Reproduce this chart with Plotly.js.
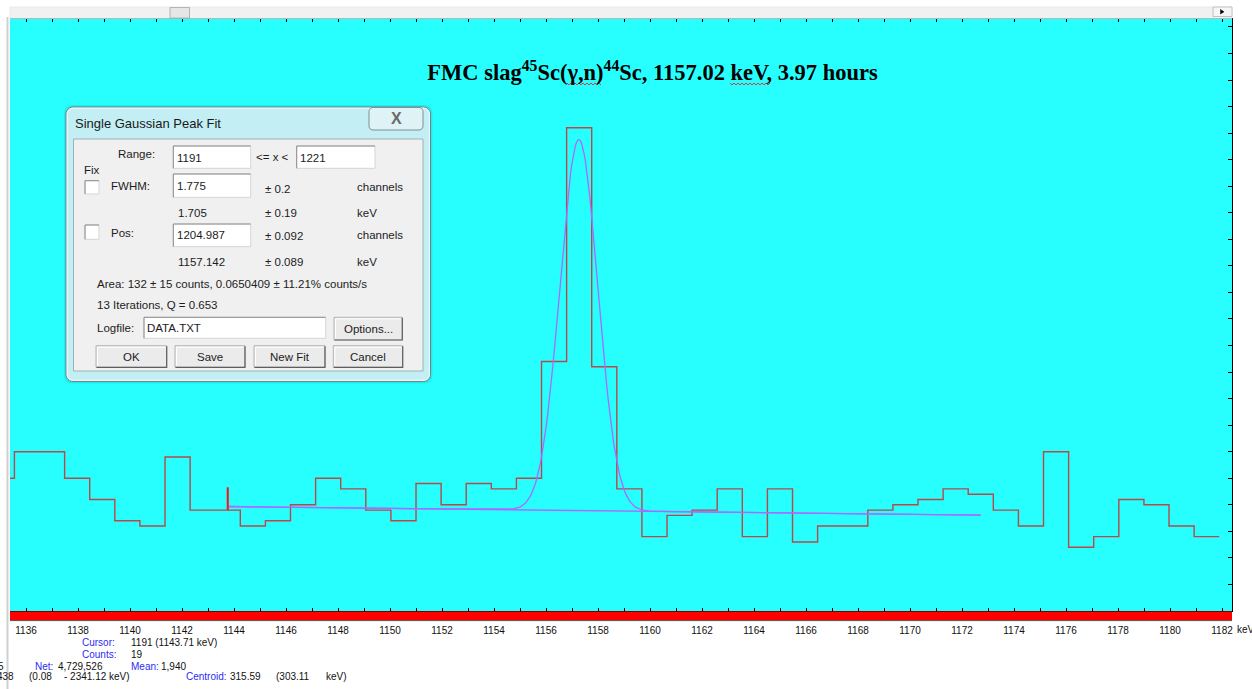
<!DOCTYPE html>
<html>
<head>
<meta charset="utf-8">
<script src="https://cdn.plot.ly/plotly-3.0.1.min.js"></script>
<style>
  html, body { margin: 0; padding: 0; background: #ffffff; }
  #chart { width: 1252px; height: 689px; }
</style>
</head>
<body>
<div id="chart"></div>
<script>
// ---------------- data ----------------
const channels = [1182, 1183, 1184, 1185, 1186, 1187, 1188, 1189, 1190, 1191,
                  1192, 1193, 1194, 1195, 1196, 1197, 1198, 1199, 1200, 1201,
                  1202, 1203, 1204, 1205, 1206, 1207, 1208, 1209, 1210, 1211,
                  1212, 1213, 1214, 1215, 1216, 1217, 1218, 1219, 1220, 1221,
                  1222, 1223, 1224, 1225, 1226, 1227, 1228, 1229, 1230];
const counts = [25, 30, 30, 25, 21, 17, 16, 29, 19, 19,
                16, 17, 20, 25, 23, 19, 17, 24, 20, 24,
                23, 25, 47, 91, 46, 23, 14, 18, 19, 23,
                14, 23, 13, 16, 16, 19, 20, 21, 23, 22,
                19, 16, 30, 12, 14, 21, 20, 16, 14];

// display energy calibration (keV at reference channel, keV per channel)
const calRefChannel = 1191;
const calRefKeV = 1143.76;
const calSlopeKeV = 0.9654;

// single gaussian fit (from the dialog) and background
const fitRange = [1191, 1221];
const fitPos = 1204.987;
const fitFWHM = 1.775;
const fitArea = 132;
const bkgAtRange = [19.68, 18.04];

// cursor marker
const cursorChannel = 1191;
const cursorCounts = [19, 23.3];

// axis ticks
const xTickKeV = [1136, 1137, 1138, 1139, 1140, 1141, 1142, 1143, 1144, 1145, 1146, 1147,
                  1148, 1149, 1150, 1151, 1152, 1153, 1154, 1155, 1156, 1157, 1158, 1159,
                  1160, 1161, 1162, 1163, 1164, 1165, 1166, 1167, 1168, 1169, 1170, 1171,
                  1172, 1173, 1174, 1175, 1176, 1177, 1178, 1179, 1180, 1181, 1182];
const xTickLabels = ['1136', '', '1138', '', '1140', '', '1142', '', '1144', '', '1146', '',
                     '1148', '', '1150', '', '1152', '', '1154', '', '1156', '', '1158', '',
                     '1160', '', '1162', '', '1164', '', '1166', '', '1168', '', '1170', '',
                     '1172', '', '1174', '', '1176', '', '1178', '', '1180', '', '1182'];

const titleText = '<b>FMC slag<sup>45</sup>Sc(γ,n)<sup>44</sup>Sc, 1157.02 keV, 3.97 hours</b>';

// ---------------- helpers ----------------
const keV = ch => calRefKeV + (ch - calRefChannel) * calSlopeKeV;

// plot area in page pixels
const PL = 10, PR = 1232, PT = 19, PB = 611;
const px = x => (x - PL) / (PR - PL);
const py = y => (PB - y) / (PB - PT);

// histogram as steps
const hx = channels.map(c => keV(c) - calSlopeKeV / 2);
hx.push(keV(channels[channels.length - 1]) + calSlopeKeV / 2);
const hy = counts.slice();
hy.push(counts[counts.length - 1]);

// fit model curve
const sigma = fitFWHM / (2 * Math.sqrt(2 * Math.log(2)));
const amp = fitArea / (sigma * Math.sqrt(2 * Math.PI));
const bkg = ch => bkgAtRange[0] + (bkgAtRange[1] - bkgAtRange[0]) * (ch - fitRange[0]) / (fitRange[1] - fitRange[0]);
const fx = [], fy = [];
for (let ch = fitRange[0]; ch <= fitRange[1] + 1e-9; ch += 0.05) {
  fx.push(keV(ch));
  fy.push(bkg(ch) + amp * Math.exp(-0.5 * Math.pow((ch - fitPos) / sigma, 2)));
}

const histColor = 'rgb(185,72,72)';
const fitColor = 'rgb(172,105,255)';

const traces = [
  { x: hx, y: hy, mode: 'lines', line: { shape: 'hv', color: histColor, width: 1.4 }, hoverinfo: 'skip' },
  { x: [keV(fitRange[0]), keV(fitRange[1])], y: bkgAtRange, mode: 'lines',
    line: { color: fitColor, width: 1.3 }, hoverinfo: 'skip' },
  { x: fx, y: fy, mode: 'lines', line: { color: fitColor, width: 1.3 }, hoverinfo: 'skip' },
  { x: [keV(cursorChannel), keV(cursorChannel)], y: cursorCounts, mode: 'lines',
    line: { color: '#ff1010', width: 2 }, hoverinfo: 'skip' }
];

// ---------------- decoration shapes (page pixels -> paper) ----------------
const shapes = [];
function rect(x0, y0, x1, y1, fill, line, lw) {
  shapes.push({ type: 'rect', xref: 'paper', yref: 'paper', layer: 'above',
    x0: px(x0), x1: px(x1), y0: py(y0), y1: py(y1),
    fillcolor: fill, line: { color: line || 'rgba(0,0,0,0)', width: lw === undefined ? 1 : lw } });
}
function pathPx(points, closed, fill, line, lw) {
  let d = points.map((p, i) => (i ? 'L' : 'M') + px(p[0]).toFixed(6) + ',' + py(p[1]).toFixed(6)).join(' ');
  if (closed) d += ' Z';
  shapes.push({ type: 'path', xref: 'paper', yref: 'paper', layer: 'above', path: d,
    fillcolor: fill || 'rgba(0,0,0,0)', line: { color: line || 'rgba(0,0,0,0)', width: lw === undefined ? 1 : lw } });
}
function roundRect(x0, y0, x1, y1, r, fill, line, lw) {
  const pts = [];
  const arc = (cx, cy, a0, a1) => { for (let k = 0; k <= 6; k++) { const a = a0 + (a1 - a0) * k / 6; pts.push([cx + r * Math.cos(a), cy + r * Math.sin(a)]); } };
  arc(x0 + r, y0 + r, Math.PI, 1.5 * Math.PI);
  arc(x1 - r, y0 + r, 1.5 * Math.PI, 2 * Math.PI);
  arc(x1 - r, y1 - r, 0, 0.5 * Math.PI);
  arc(x0 + r, y1 - r, 0.5 * Math.PI, Math.PI);
  pathPx(pts, true, fill, line, lw);
}
function sunkenBox(x0, y0, x1, y1) {
  rect(x0, y0, x1, y1, '#ffffff', '#d5d5d5', 1);
  pathPx([[x0, y1], [x0, y0], [x1, y0]], false, null, '#8e8e8e', 1);
}
function button(x0, y0, x1, y1) {
  rect(x0, y0, x1, y1, '#ebebeb', '#b4b4b4', 1);
  pathPx([[x0 + 0.5, y1], [x1, y1], [x1, y0 + 0.5]], false, null, '#5e5e5e', 1.2);
  pathPx([[x0 + 1.5, y1 - 1.5], [x0 + 1.5, y0 + 1.5], [x1 - 1.5, y0 + 1.5]], false, null, '#ffffff', 1);
}
function wave(x0, x1, y) {
  const pts = [];
  let up = true;
  for (let x = x0; x <= x1; x += 2) { pts.push([x, y + (up ? -1 : 1)]); up = !up; }
  pathPx(pts, false, null, '#e03a3a', 1);
}

// window chrome around the plot
rect(10, 7, 1232, 18.5, '#f1f1f1', '#e2e2e2', 0.6);       // top scroll bar
rect(170, 7.5, 189.5, 18, '#e6e6e6', '#a6a6a6', 0.8);     // scroll thumb
rect(1213, 7, 1232, 16.5, '#f6f6f6', '#b5b5b5', 0.8);     // arrow button
pathPx([[1220.5, 9.5], [1224, 11.8], [1220.5, 14]], true, '#000000', '#000000', 0.5);
pathPx([[7.5, 17], [7.5, 689]], false, null, '#d0d0d0', 2); // left frame line
rect(10, 611.6, 1232, 620.3, '#ff0000', null, 0);          // red ROI bar
pathPx([[10, 620.6], [1232, 620.6]], false, null, '#505050', 1);

// red spell-check squiggles under the title
wave(567, 602, 84);
wave(730, 771, 84);

// dialog box
roundRect(64, 105, 432.5, 383.5, 8, 'rgba(0,60,70,0.10)', null, 0);   // soft shadow
roundRect(66, 107, 430.5, 381.5, 7, '#c3eef3', '#6f8389', 1);
roundRect(67.2, 108.2, 429.3, 380.3, 6, null, 'rgba(255,255,255,0.75)', 1);
rect(73.5, 139, 423, 371, '#f0f0f0', '#9fb1b6', 1);
roundRect(369, 107.5, 423, 130, 4, '#dff3f6', '#7d9096', 1);
sunkenBox(173.3, 146, 250.7, 168.3);
sunkenBox(296.7, 146, 375, 168.3);
sunkenBox(173.3, 174, 250.7, 197.3);
sunkenBox(173.3, 224, 250.7, 246.7);
sunkenBox(144, 317.3, 325.7, 338.3);
sunkenBox(85, 180.7, 99, 194);
sunkenBox(85, 225, 99, 239.3);
button(334, 317.3, 402.3, 340);
button(96, 345.7, 166.7, 367.3);
button(175, 345.7, 245, 367.3);
button(254, 345.7, 325, 367.3);
button(333.3, 345.7, 402.7, 367.3);

// ---------------- text annotations ----------------
const annotations = [];
const dlgFont = { family: 'Liberation Sans, Arial, sans-serif', size: 11.5, color: '#1c1c1c' };
const stFont = { family: 'Liberation Sans, Arial, sans-serif', size: 10, color: '#111111' };
const stBlue = Object.assign({}, stFont, { color: '#2c2cf2' });
function ann(text, x, y, font, anchor) {
  annotations.push({ text: text, xref: 'paper', yref: 'paper', x: px(x), y: py(y),
    xanchor: anchor || 'left', yanchor: 'middle', showarrow: false, font: font, borderpad: 0 });
}

// dialog texts
ann('Single Gaussian Peak Fit', 73.5, 123.5, { family: 'Liberation Sans, Arial, sans-serif', size: 13, color: '#1a1a1a' });
ann('<b>X</b>', 396, 118.5, { family: 'Liberation Sans, Arial, sans-serif', size: 16, color: '#6a6a6a' }, 'center');
ann('Range:', 117, 153.5, dlgFont);
ann('1191', 175.5, 157.5, dlgFont);
ann('<= x <', 255, 157, dlgFont);
ann('1221', 299, 157.5, dlgFont);
ann('Fix', 82.5, 170, dlgFont);
ann('FWHM:', 109.5, 186, dlgFont);
ann('1.775', 175.5, 185.5, dlgFont);
ann('± 0.2', 264, 189, dlgFont);
ann('channels', 356, 187, dlgFont);
ann('1.705', 177, 212.5, dlgFont);
ann('± 0.19', 264, 212.5, dlgFont);
ann('keV', 356, 212.5, dlgFont);
ann('Pos:', 110, 233, dlgFont);
ann('1204.987', 175.5, 235, dlgFont);
ann('± 0.092', 264, 236, dlgFont);
ann('channels', 356, 235.5, dlgFont);
ann('1157.142', 177, 262, dlgFont);
ann('± 0.089', 264, 262, dlgFont);
ann('keV', 356, 262, dlgFont);
ann('Area: 132 ± 15 counts, 0.0650409 ± 11.21% counts/s', 96, 283.5, dlgFont);
ann('13 Iterations, Q = 0.653', 96, 305, dlgFont);
ann('Logfile:', 96, 328, dlgFont);
ann('DATA.TXT', 146, 327.5, dlgFont);
ann('Options...', 368, 328.8, dlgFont, 'center');
ann('OK', 131.3, 356.5, dlgFont, 'center');
ann('Save', 210, 356.5, dlgFont, 'center');
ann('New Fit', 289.5, 356.5, dlgFont, 'center');
ann('Cancel', 368, 356.5, dlgFont, 'center');

// status line texts under the axis
ann('keV', 1236, 629.5, stFont);
ann('Cursor:', 115.5, 643, stBlue, 'right');
ann('1191 (1143.71 keV)', 130, 643, stFont);
ann('Counts:', 117, 654.5, stBlue, 'right');
ann('19', 130, 654.5, stFont);
ann('5', -3, 666, stFont);
ann('Net:', 53.5, 666, stBlue, 'right');
ann('4,729,526', 57, 666, stFont);
ann('Mean:', 130, 666, stBlue);
ann('1,940', 159.5, 666, stFont);
ann('438', -4, 676.5, stFont);
ann('(0.08', 28, 676.5, stFont);
ann('- 2341.12 keV)', 63, 676.5, stFont);
ann('Centroid:', 185, 676.5, stBlue);
ann('315.59', 228.5, 676.5, stFont);
ann('(303.11', 275, 676.5, stFont);
ann('keV)', 325, 676.5, stFont);

// ---------------- layout ----------------
const layout = {
  width: 1252, height: 689,
  margin: { l: PL, r: 1252 - PR, t: PT, b: 689 - PB, pad: 0, autoexpand: false },
  paper_bgcolor: '#ffffff',
  plot_bgcolor: '#27ffff',
  showlegend: false,
  hovermode: false,
  title: { text: titleText, xref: 'container', yref: 'container', x: 652.5 / 1252, y: 1 - 72.5 / 689,
           xanchor: 'center', yanchor: 'middle',
           font: { family: 'Liberation Serif, Times New Roman, serif', size: 22.5, color: '#000000' } },
  xaxis: {
    range: [1136 + (PL - 26) / 26, 1136 + (PR - 26) / 26],
    tickmode: 'array', tickvals: xTickKeV, ticktext: xTickLabels,
    ticks: 'inside', ticklen: 3, tickwidth: 1, tickcolor: '#000000',
    showline: true, linecolor: '#000000', linewidth: 1, mirror: 'ticks',
    showgrid: false, zeroline: false, automargin: false,
    ticklabelstandoff: 10,
    tickfont: { family: 'Liberation Sans, Arial, sans-serif', size: 10, color: '#111111' }
  },
  yaxis: {
    range: [0, (PB - PT) / 5.31],
    side: 'right', tickmode: 'linear', tick0: 0, dtick: 5,
    ticks: 'inside', ticklen: 4, tickwidth: 1, tickcolor: '#000000',
    showline: true, linecolor: '#000000', linewidth: 1,
    showticklabels: false, showgrid: false, zeroline: false, automargin: false
  },
  shapes: shapes,
  annotations: annotations
};

Plotly.newPlot('chart', traces, layout, { displayModeBar: false, staticPlot: true });
</script>
</body>
</html>
